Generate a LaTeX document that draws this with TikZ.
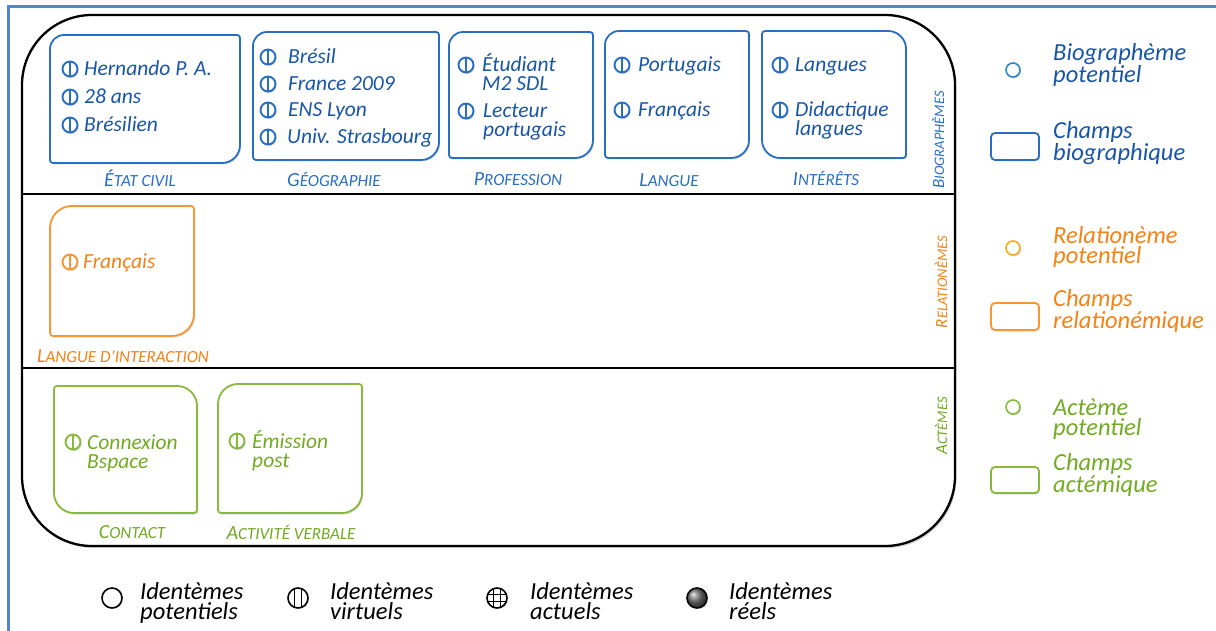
\documentclass[tikz,border=0pt]{standalone}
\usepackage{fontspec}
\setmainfont{Carlito}
\usetikzlibrary{shadows}
\definecolor{blueT}{RGB}{25,85,165}
\definecolor{blueL}{RGB}{40,110,195}
\definecolor{blueC}{RGB}{45,135,200}
\definecolor{orangeT}{RGB}{245,130,20}
\definecolor{orangeL}{RGB}{247,150,50}
\definecolor{orangeC}{RGB}{250,170,30}
\definecolor{greenT}{RGB}{115,170,35}
\definecolor{greenL}{RGB}{135,185,60}
\definecolor{frameC}{RGB}{80,135,200}
\newcommand\fsc[2]{{\fontsize{20}{20}\selectfont #1}{\fontsize{17}{17}\selectfont #2}}
\newcommand\vsc[2]{{\fontsize{17}{17}\selectfont #1}{\fontsize{14.5}{15}\selectfont #2}}
\newcommand\cbox[9]{%
  \draw[#1] (#2,#3+#6) arc[start angle=180,end angle=270,radius=#6]
    -- (#4-#7,#3) arc[start angle=270,end angle=360,radius=#7]
    -- (#4,#5-#8) arc[start angle=0,end angle=90,radius=#8]
    -- (#2+#9,#5) arc[start angle=90,end angle=180,radius=#9] -- cycle;}
\tikzset{
  shd/.style={drop shadow={shadow xshift=1.2pt, shadow yshift=-1.5pt, opacity=0.25}},
  boxb/.style={draw=blueL, line width=1.8pt, fill=white, shd},
  boxo/.style={draw=orangeL, line width=1.8pt, fill=white, shd},
  boxg/.style={draw=greenL, line width=1.8pt, fill=white, shd},
  txt/.style={inner sep=0pt, anchor=base west, align=left, font=\fontsize{21.5}{19}\selectfont\itshape},
  bt/.style={txt, text=blueT},
  ot/.style={txt, text=orangeT},
  gt/.style={txt, text=greenT},
  lab/.style={inner sep=0pt, anchor=base, font=\itshape},
  vlab/.style={inner sep=0pt, anchor=center, rotate=90, font=\itshape},
  lt/.style={inner sep=0pt, anchor=base west, align=left, font=\fontsize{24.5}{20.5}\selectfont\itshape},
  kt/.style={inner sep=0pt, anchor=base west, align=left, text=black, font=\fontsize{24.5}{20}\selectfont\itshape},
  ico/.style={circle, draw=#1, fill=white, line width=1.9pt, minimum size=15pt, inner sep=0pt,
    drop shadow={shadow xshift=1pt, shadow yshift=-1.5pt, opacity=0.35},
    path picture={\draw[#1, line width=1.4pt] (path picture bounding box.north) -- (path picture bounding box.south);}},
  lico/.style={circle, draw=#1, fill=white, line width=1.6pt, minimum size=14pt, inner sep=0pt,
    drop shadow={shadow xshift=1pt, shadow yshift=-1.5pt, opacity=0.3}},
  lrect/.style={draw=#1, line width=1.8pt, fill=white, rounded corners=4pt,
    drop shadow={shadow xshift=1.2pt, shadow yshift=-1.5pt, opacity=0.25}},
  kc/.style={circle, draw=black, line width=1.6pt, fill=white, minimum size=20pt, inner sep=0pt,
    drop shadow={shadow xshift=1pt, shadow yshift=-1.2pt, opacity=0.25}},
}
\begin{document}
\begin{tikzpicture}[x=1pt,y=-1pt]
\useasboundingbox (0,0) rectangle (1216,631);
% frame
\draw[frameC, line width=3pt] (8,631) -- (8,7) -- (1216,7);
% main box
\draw[line width=2.3pt, fill=white, rounded corners=70pt,
  drop shadow={shadow xshift=1.5pt, shadow yshift=-2pt, opacity=0.35}] (22,15) rectangle (955,546);
\draw[line width=1.8pt] (22,194) -- (955,194);
\draw[line width=1.8pt] (22,368) -- (955,368);
% biographic boxes
\cbox{boxb}{50}{35}{240}{163}{14}{3}{18}{3}
\cbox{boxb}{253}{32}{439}{160}{14}{3}{18}{3}
\cbox{boxb}{449}{32}{593}{158}{14}{3}{18}{3}
\cbox{boxb}{605}{31}{749}{158}{14}{3}{18}{3}
\cbox{boxb}{762}{31}{906}{158}{3}{18}{3}{18}
% relational box
\cbox{boxo}{50}{206}{194}{336}{22}{3}{22}{3}
% action boxes
\cbox{boxg}{54}{386}{197}{513}{3}{20}{3}{20}
\cbox{boxg}{218}{384}{362}{513}{20}{3}{20}{3}
% Etat civil
\node[ico=blueL] (i11) at (70,69) {};
\node[bt] (t11) at (84,76) {Hernando P. A.};
\node[ico=blueL] (i12) at (70,97) {};
\node[bt] (t12) at (84,104) {28 ans};
\node[ico=blueL] (i13) at (70,125) {};
\node[bt] (t13) at (84,132) {Brésilien};
% Geographie
\node[ico=blueL] (i21) at (268,57) {};
\node[bt] (t21) at (288,64) {Brésil};
\node[ico=blueL] (i22) at (268,84) {};
\node[bt] (t22) at (288,91) {France 2009};
\node[ico=blueL] (i23) at (268,110) {};
\node[bt] (t23) at (288,117) {ENS Lyon};
\node[ico=blueL] (i24) at (268,137) {};
\node[bt] (t24) at (287,144) {Univ. Strasbourg};
% Profession (anchor = baseline of last line)
\node[ico=blueL] (i31) at (466,65) {};
\node[bt] (t31) at (482,91) {Étudiant\\M2 SDL};
\node[ico=blueL] (i32) at (466,111) {};
\node[bt] (t32) at (483,137) {Lecteur\\portugais};
% Langue
\node[ico=blueL] (i41) at (622,65) {};
\node[bt] (t41) at (638,72) {Portugais};
\node[ico=blueL] (i42) at (622,110) {};
\node[bt] (t42) at (638,117) {Français};
% Interets
\node[ico=blueL] (i51) at (780,65) {};
\node[bt] (t51) at (795,72) {Langues};
\node[ico=blueL] (i52) at (780,110) {};
\node[bt] (t52) at (795,136) {Didactique\\langues};
% Relationeme
\node[ico=orangeL] (i61) at (70,262) {};
\node[ot] (t61) at (83,269) {Français};
% Actemes
\node[ico=greenL] (i71) at (73,442) {};
\node[gt] (t71) at (87,468) {Connexion\\Bspace};
\node[ico=greenL] (i81) at (237,441) {};
\node[gt] (t81) at (252,467) {Émission\\post};
% field labels
\node[lab, text=blueL] (l1) at (140,187) {\fsc{É}{TAT CIVIL}};
\node[lab, text=blueL] (l2) at (334,187) {\fsc{G}{ÉOGRAPHIE}};
\node[lab, text=blueL] (l3) at (518,186) {\fsc{P}{ROFESSION}};
\node[lab, text=blueL] (l4) at (669,187) {\fsc{L}{ANGUE}};
\node[lab, text=blueL] (l5) at (826,186) {\fsc{I}{NTÉRÊTS}};
\node[lab, text=orangeT] (l6) at (123,362) {\fsc{L}{ANGUE D’INTERACTION}};
\node[lab, text=greenT] (l7) at (132,538) {\fsc{C}{ONTACT}};
\node[lab, text=greenT] (l8) at (291,539) {\fsc{A}{CTIVITÉ VERBALE}};
% vertical labels
\node[vlab, text=blueL] (v1) at (938,140) {\vsc{B}{IOGRAPHÈMES}};
\node[vlab, text=orangeT] (v2) at (941,282) {\vsc{R}{ELATIONÈMES}};
\node[vlab, text=greenT] (v3) at (941,426) {\vsc{A}{CTÈMES}};
% right legend (anchor = baseline of last line)
\node[lico=blueC] (c1) at (1013,70) {};
\node[lt, text=blueT] (r1) at (1053,82.5) {Biographème\\potentiel};
\draw[lrect=blueL] (991,133) rectangle (1039,160);
\node[lt, text=blueT] (r2) at (1053,160.5) {Champs\\biographique};
\node[lico=orangeC] (c2) at (1013,248) {};
\node[lt, text=orangeT] (r3) at (1053,263.5) {Relationème\\potentiel};
\draw[lrect=orangeL] (991,303) rectangle (1039,330);
\node[lt, text=orangeT] (r4) at (1053,328.5) {Champs\\relationémique};
\node[lico=greenL] (c3) at (1013,407) {};
\node[lt, text=greenT] (r5) at (1053,435.5) {Actème\\potentiel};
\draw[lrect=greenL] (991,467) rectangle (1039,493);
\node[lt, text=greenT] (r6) at (1053,492.5) {Champs\\actémique};
% bottom legend
\node[kc] (k1) at (112,598) {};
\node[kt] (b1) at (140,619) {Identèmes\\potentiels};
\node[kc, path picture={
  \draw[line width=1.3pt] ([xshift=-3.3pt]path picture bounding box.north) -- ([xshift=-3.3pt]path picture bounding box.south);
  \draw[line width=1.3pt] ([xshift=3.3pt]path picture bounding box.north) -- ([xshift=3.3pt]path picture bounding box.south);}] (k2) at (298,598) {};
\node[kt] (b2) at (330,619) {Identèmes\\virtuels};
\node[kc, path picture={
  \draw[line width=1.2pt] ([xshift=-3.3pt]path picture bounding box.north) -- ([xshift=-3.3pt]path picture bounding box.south);
  \draw[line width=1.2pt] ([xshift=3.3pt]path picture bounding box.north) -- ([xshift=3.3pt]path picture bounding box.south);
  \draw[line width=1.2pt] ([yshift=-3.3pt]path picture bounding box.west) -- ([yshift=-3.3pt]path picture bounding box.east);
  \draw[line width=1.2pt] ([yshift=3.3pt]path picture bounding box.west) -- ([yshift=3.3pt]path picture bounding box.east);}] (k3) at (497,598) {};
\node[kt] (b3) at (530,619) {Identèmes\\actuels};
\node[kc, ball color=black!55] (k4) at (697,598) {};
\node[kt] (b4) at (729,619) {Identèmes\\réels};
\end{tikzpicture}
\end{document}
